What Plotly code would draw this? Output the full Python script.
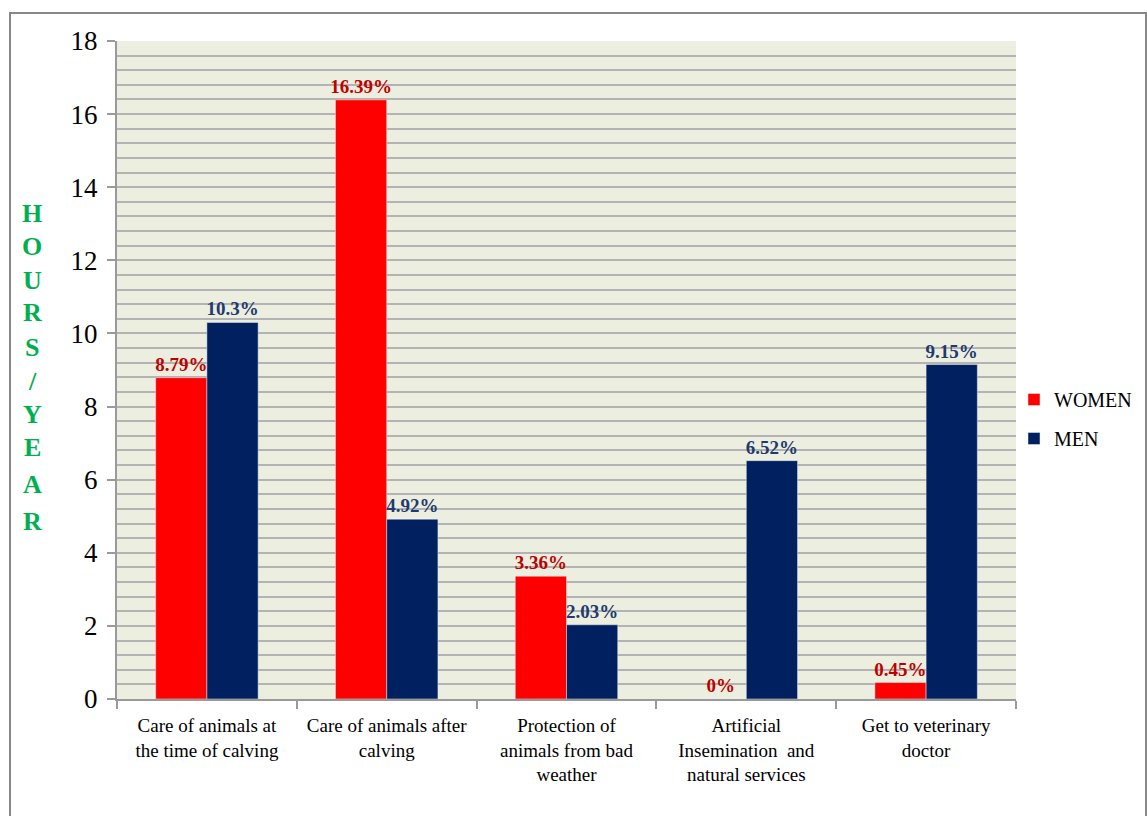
import plotly.graph_objects as go

categories = [
    "Care of animals at<br>the time of calving",
    "Care of animals after<br>calving",
    "Protection of<br>animals from bad<br>weather",
    "Artificial<br>Insemination  and<br>natural services",
    "Get to veterinary<br>doctor",
]
women = [8.79, 16.39, 3.36, 0, 0.45]
men = [10.3, 4.92, 2.03, 6.52, 9.15]
women_labels = ["8.79%", "16.39%", "3.36%", "0%", "0.45%"]
men_labels = ["10.3%", "4.92%", "2.03%", "6.52%", "9.15%"]
y_title_letters = ["H", "O", "U", "R", "S", "/", "Y", "E", "A", "R"]

FONT = "Liberation Serif, Times New Roman, serif"
W, H = 1147, 816
L, R, T, B = 117, 131, 41, 117
pw, ph = W - L - R, H - T - B

fig = go.Figure()
fig.add_trace(go.Bar(
    x=categories, y=women, name="WOMEN", marker_color="#FF0000",
    text=women_labels, textposition="outside", cliponaxis=False,
    constraintext="none",
    textfont=dict(family=FONT, size=19, color="#C00000", weight="bold"),
    legendgroup="w",
))
fig.add_trace(go.Bar(
    x=categories, y=men, name="MEN", marker_color="#002060",
    text=men_labels, textposition="outside", cliponaxis=False,
    constraintext="none",
    textfont=dict(family=FONT, size=19, color="#1F3A70", weight="bold"),
    legendgroup="m",
))

# vertical stacked y-axis title letters
ys = [213, 247, 280, 313, 347, 381, 414, 448, 484, 521]
for ch, py in zip(y_title_letters, ys):
    fig.add_annotation(
        text=ch, xref="paper", yref="paper",
        x=(32 - L) / pw, y=(H - B - py) / ph,
        showarrow=False, xanchor="center", yanchor="middle",
        font=dict(family=FONT, size=26, color="#00B050", weight="bold"),
    )

# outer chart border
fig.add_shape(
    type="rect", xref="paper", yref="paper",
    x0=(10 - L) / pw, x1=(1146 - L) / pw,
    y0=(H - B - 830) / ph, y1=(H - B - 13) / ph,
    line=dict(color="#888888", width=2), fillcolor="rgba(0,0,0,0)", layer="below",
)

fig.update_layout(
    width=W, height=H,
    margin=dict(l=L, r=R, t=T, b=B, autoexpand=False),
    paper_bgcolor="white", plot_bgcolor="#ECEFDF",
    barmode="group", bargap=0.43, bargroupgap=0,
    font=dict(family=FONT, color="black"),
    showlegend=True,
    legend=dict(
        x=(1014 - L) / pw, y=(H - B - 419) / ph, xanchor="left", yanchor="middle",
        font=dict(family=FONT, size=20, color="black"),
        traceorder="grouped", tracegroupgap=10,
        bgcolor="rgba(0,0,0,0)",
    ),
    xaxis=dict(
        showline=True, linecolor="#9A9A9A", linewidth=2,
        ticks="outside", tickson="boundaries", ticklen=8, tickcolor="#9A9A9A", tickwidth=2,
        tickfont=dict(family=FONT, size=19, color="black"),
        ticklabelstandoff=8,
        showgrid=False,
    ),
    yaxis=dict(
        range=[0, 18], dtick=2, tick0=0,
        showline=True, linecolor="#9A9A9A", linewidth=2,
        ticks="outside", ticklen=8, tickcolor="#9A9A9A", tickwidth=2,
        tickfont=dict(family=FONT, size=27, color="black"),
        ticklabelstandoff=4,
        showgrid=True, gridcolor="#B3B3B3", gridwidth=2,
        minor=dict(dtick=0.4, showgrid=True, gridcolor="#B3B3B3", gridwidth=2),
        zeroline=False,
    ),
)

fig.write_html("out.html")
